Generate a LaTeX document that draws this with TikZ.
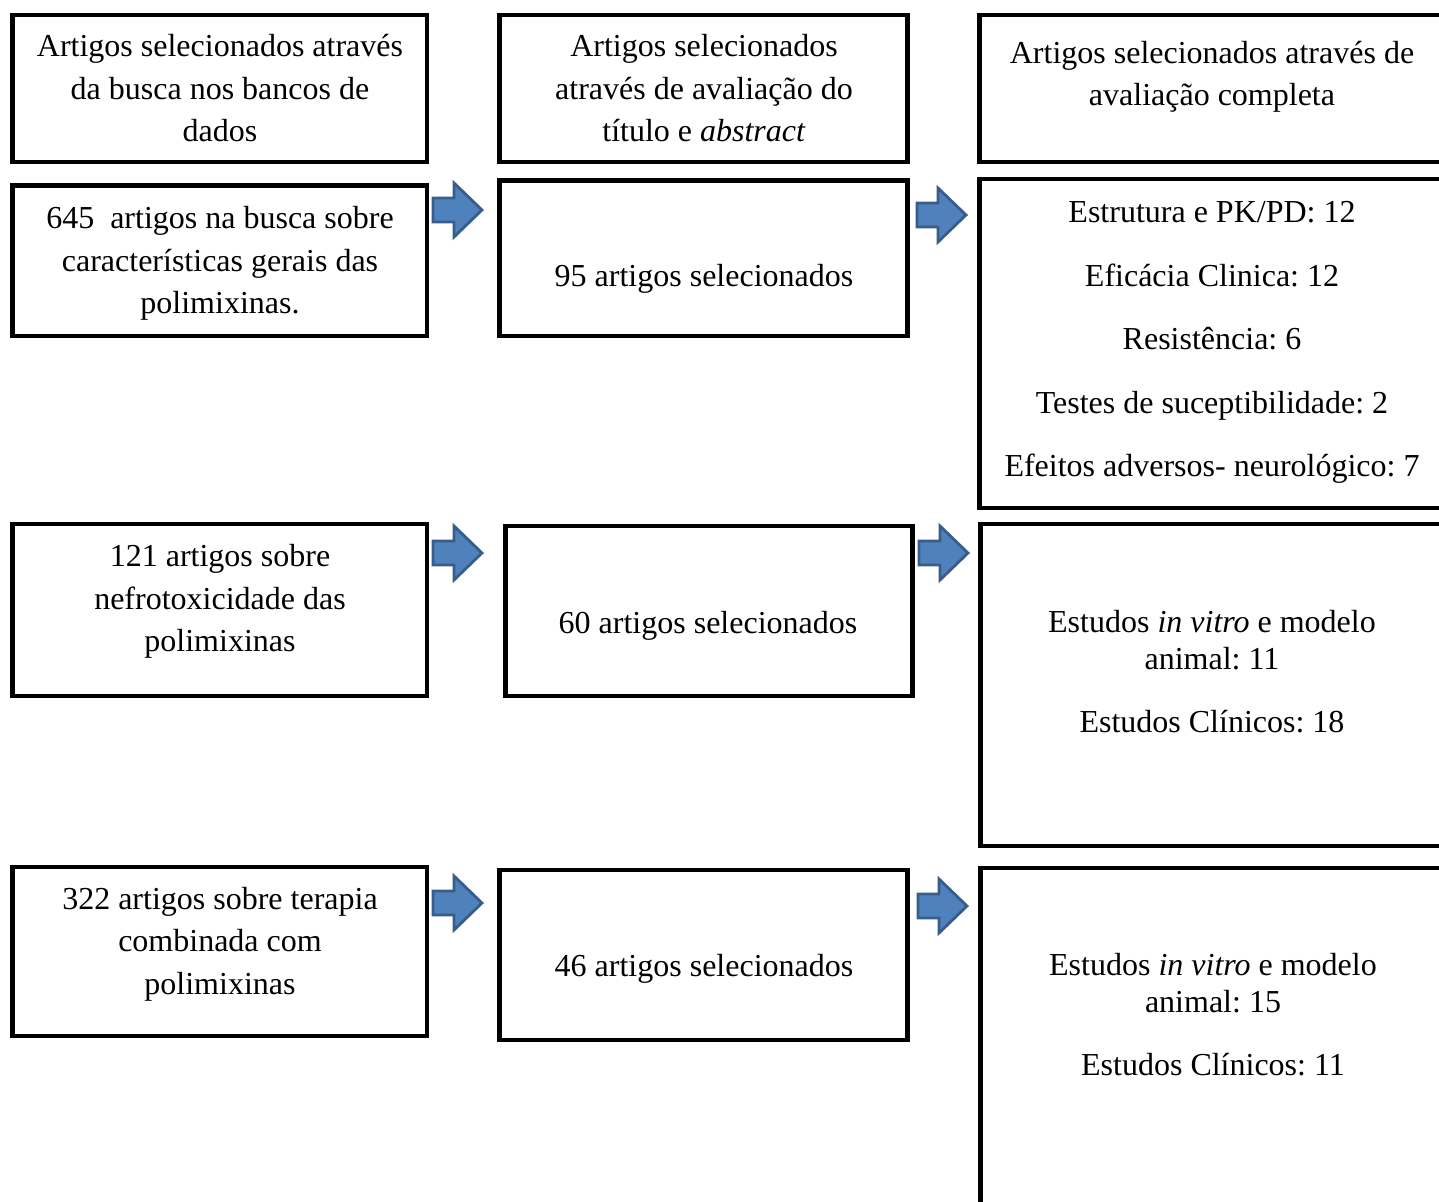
\documentclass[tikz,border=0pt]{standalone}
\usepackage{fontspec}
\setmainfont{Liberation Serif}
\frenchspacing
\definecolor{arrowfill}{RGB}{79,129,189}
\definecolor{arrowline}{RGB}{56,93,138}
\tikzset{
  box/.style={draw=black, line width=4.5pt, rectangle, inner sep=0pt, line join=miter},
  txt/.style={font=\fontsize{32}{42.5}\selectfont, align=center, inner sep=0pt},
  arrowshape/.style={fill=arrowfill, draw=arrowline, line width=2.8pt, line join=miter},
  blockarrow/.pic={
    \draw[arrowshape] (0,-12) -- (21,-12) -- (21,-27) -- (49,0) -- (21,27)
      -- (21,12) -- (0,12) -- cycle;
  }
}
\begin{document}
\begin{tikzpicture}[x=1pt,y=-1pt]
\useasboundingbox (0,0) rectangle (1439,1201);
\clip (0,0) rectangle (1439,1201);

% column headers
\node[box, minimum width=414.5, minimum height=147] (h1) at (219.75,88.5) {};
\node[box, minimum width=408,   minimum height=147] (h2) at (703.5,88.5) {};
\node[box, minimum width=480.5, minimum height=147] (h3) at (1219.75,88.5) {};

% first search: general characteristics
\node[box, minimum width=414.5, minimum height=150.5] (r1a) at (219.75,260.75) {};
\node[box, minimum width=408,   minimum height=155.5] (r1b) at (703.5,258.25) {};
\node[box, minimum width=480.5, minimum height=329]   (r1c) at (1219.75,343.5) {};

% second search: nephrotoxicity
\node[box, minimum width=414.5, minimum height=172] (r2a) at (219.75,610) {};
\node[box, minimum width=407,   minimum height=170] (r2b) at (709,611) {};
\node[box, minimum width=479.5, minimum height=322] (r2c) at (1220.25,685) {};

% third search: combined therapy
\node[box, minimum width=414.5, minimum height=169] (r3a) at (219.75,951.5) {};
\node[box, minimum width=408,   minimum height=170] (r3b) at (703.5,955) {};
\node[box, minimum width=479.5, minimum height=362] (r3c) at (1220.25,1049) {};

% block arrows between the stages
\pic at (433,210) {blockarrow};
\pic at (917,215) {blockarrow};
\pic at (433,553) {blockarrow};
\pic at (919,553) {blockarrow};
\pic at (433,903) {blockarrow};
\pic at (918,906) {blockarrow};

% texts
\node[txt] (th1) at (220,88.5) {Artigos selecionados através\\da busca nos bancos de\\dados};
\node[txt] (th2) at (704,88.5) {Artigos selecionados\\através de avaliação do\\título e \textit{abstract}};
\node[txt] (th3) at (1212,77) {Artigos selecionados através de\\avaliação completa};

\node[txt] (t1a) at (220,263.5) {645\ \ artigos na busca sobre\\características gerais das\\polimixinas.};
\node[txt] (t1b) at (704,278.5) {95 artigos selecionados};
\node[txt, font=\fontsize{32}{63.5}\selectfont] (t1c) at (1212,342.5)
  {Estrutura e PK/PD: 12\\Eficácia Clinica: 12\\Resistência: 6\\Testes de suceptibilidade: 2\\Efeitos adversos- neurológico: 7};

\node[txt] (t2a) at (220,601.5) {121 artigos sobre\\nefrotoxicidade das\\polimixinas};
\node[txt] (t2b) at (708,625.5) {60 artigos selecionados};
\node[txt, font=\fontsize{32}{37}\selectfont] (t2c) at (1212,672)
  {Estudos \textit{in vitro} e modelo\\animal: 11\\[26pt]Estudos Clínicos: 18};

\node[txt] (t3a) at (220,944) {322 artigos sobre terapia\\combinada com\\polimixinas};
\node[txt] (t3b) at (704,968.5) {46 artigos selecionados};
\node[txt, font=\fontsize{32}{37}\selectfont] (t3c) at (1213,1015)
  {Estudos \textit{in vitro} e modelo\\animal: 15\\[26pt]Estudos Clínicos: 11};
\end{tikzpicture}
\end{document}
